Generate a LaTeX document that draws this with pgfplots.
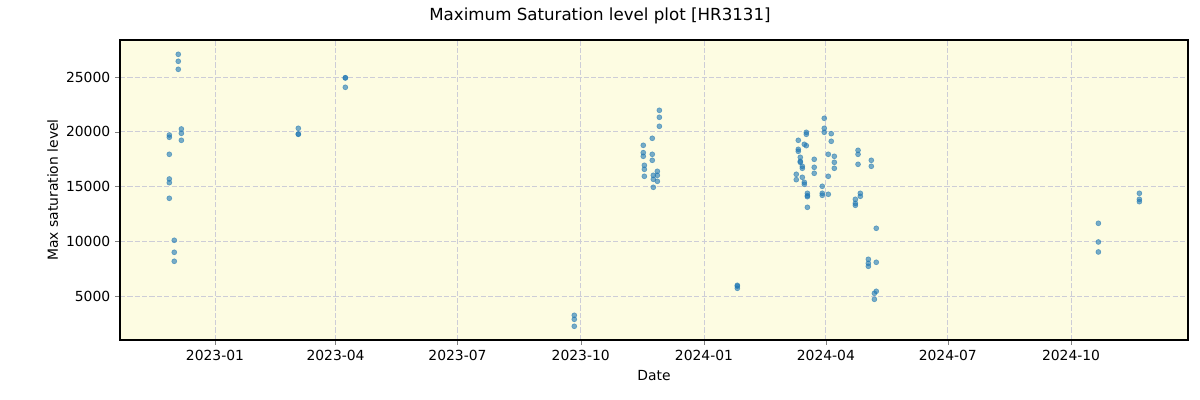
\documentclass[border=0pt]{standalone}
\usepackage{fontspec}
\setmainfont{DejaVu Sans}
\usepackage{pgfplots}
\pgfplotsset{compat=1.18}
\definecolor{MplBlue}{RGB}{31,119,180}
\definecolor{PlotBg}{RGB}{253,252,226}
\definecolor{GridGray}{RGB}{205,205,215}

% x = days since 2023-01-01
\pgfplotstableread{
x y
-34.1 19704
-34.1 19494
-34.1 17941
-34.1 15686
-34.1 15349
-34.1 13923
-30.4 10088
-30.4 8992
-30.4 8170
-27.4 27073
-27.4 26434
-27.4 25703
-25.1 20252
-25.1 19858
-25.1 19220
62.2 20315
62.2 19795
62.2 19768
97.3 24936
97.3 24909
97.3 24059
268.2 3238
268.2 2873
268.2 2234
319.7 18763
319.7 18090
319.7 17758
320.5 16937
320.5 16572
320.5 15932
326.4 19402
326.4 17941
326.4 17393
327.2 16023
327.2 15658
327.2 14927
330.2 16389
330.2 16023
330.2 15475
331.7 21959
331.7 21320
331.7 20498
389.9 5978
389.9 5900
389.9 5704
433.9 16115
433.9 15622
435.4 19220
435.4 18397
435.4 18215
436.9 17667
436.9 17302
436.9 17210
438.4 16846
438.4 16663
438.4 15841
439.9 18855
439.9 15384
439.9 15201
441.4 19950
441.4 19768
441.4 18727
442.2 14380
442.2 14160
442.2 14069
442.2 13101
447.3 17484
447.3 16754
447.3 16206
453.3 15019
453.3 14380
453.3 14197
454.8 21229
454.8 20315
454.8 19950
457.8 17941
457.8 15932
457.8 14289
460.0 19822
460.0 19128
462.3 17758
462.3 17210
462.3 16663
478.0 13832
478.0 13467
478.0 13284
480.0 18306
480.0 17941
480.0 17028
481.7 14380
481.7 14106
487.7 8353
487.7 7987
487.7 7713
489.9 17393
489.9 16846
492.2 4700
492.2 5247
493.6 11183
493.6 8079
493.6 5430
659.4 11640
659.4 9932
659.4 9020
690.0 14380
690.0 13832
690.0 13613
}\satdata

\begin{document}
\begin{tikzpicture}
\path[use as bounding box] (-86.4pt,-43.2pt) rectangle (777.6pt,244.8pt);
\begin{axis}[
  at={(0pt,0pt)}, anchor=south west,
  scale only axis,
  width=768.96pt, height=216pt,
  xmin=-70.9, xmax=726.3,
  ymin=982, ymax=28379,
  xtick={0,90,181,273,365,456,547,639},
  xticklabels={2023-01,2023-04,2023-07,2023-10,2024-01,2024-04,2024-07,2024-10},
  ytick={5000,10000,15000,20000,25000},
  /pgf/number format/assume math mode=true,
  /pgf/number format/1000 sep={},
  scaled y ticks=false,
  tick label style={font=\fontsize{10}{12}\selectfont},
  label style={font=\fontsize{10}{12}\selectfont},
  tick align=outside,
  major tick length=3.5pt,
  xtick pos=bottom, ytick pos=left,
  grid=major,
  grid style={GridGray, line width=0.6pt, dash pattern=on 3.7pt off 1.6pt},
  axis line style={line width=0.8pt},
  axis background/.style={fill=PlotBg},
  xlabel={Date},
  ylabel={Max saturation level},
  xlabel style={at={(axis description cs:0.5,0)}, anchor=north, yshift=-18.5pt},
  ylabel style={at={(axis description cs:0,0.5)}, anchor=south, yshift=41pt},
]
\addplot[only marks, mark=*, mark size=1.8pt,
  mark options={fill=MplBlue, draw=MplBlue, fill opacity=0.6, draw opacity=0.6}]
  table[x=x, y=y] {\satdata};
\end{axis}
\node[font=\fontsize{12}{14}\selectfont] at (345.6pt,233.5pt) {Maximum Saturation level plot [HR3131]};
\end{tikzpicture}
\end{document}
